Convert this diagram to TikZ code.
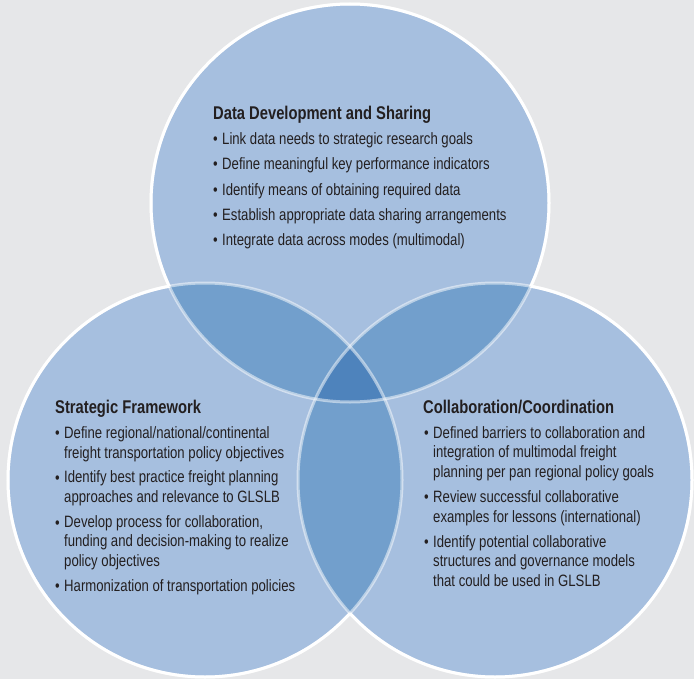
\documentclass[tikz,border=0pt]{standalone}
\usepackage{fontspec}
\setmainfont{Liberation Sans}[FakeStretch=0.8]
\usepackage{xcolor}

\definecolor{pagebg}{RGB}{230,231,233}
\definecolor{vennone}{RGB}{166,191,223}
\definecolor{venntwo}{RGB}{114,159,204}
\definecolor{vennthree}{RGB}{78,131,188}
\definecolor{ink}{RGB}{35,31,32}

\tikzset{
  heading/.style={anchor=base west, inner sep=0pt, text=ink,
    font=\bfseries\fontsize{18.5}{19.5}\selectfont},
  entry/.style={anchor=base west, inner sep=0pt, text=ink, align=left,
    font=\fontsize{16.5}{19.5}\selectfont},
  dot/.style={anchor=base west, inner sep=0pt, text=ink,
    font=\fontsize{16.5}{19.5}\selectfont},
  rim/.style={white, line width=3bp}
}

% the three circles
\def\circD{(350,203) circle (199)}
\def\circS{(205,480) circle (197)}
\def\circC{(495,480) circle (197)}

\begin{document}
\begin{tikzpicture}[x=1bp,y=-1bp]

\useasboundingbox (0,0) rectangle (694,679);
\fill[pagebg] (0,0) rectangle (694,679);

% Plain circle fills
\fill[vennone] \circD;
\fill[vennone] \circS;
\fill[vennone] \circC;

% Pairwise overlaps
\begin{scope}
  \clip \circD;
  \fill[venntwo] \circS;
  \fill[venntwo] \circC;
\end{scope}
\begin{scope}
  \clip \circS;
  \fill[venntwo] \circC;
  \clip \circC;
  \fill[vennthree] \circD;
\end{scope}

% Faint inner rims
\draw[rim, opacity=0.5] \circD;
\draw[rim, opacity=0.5] \circS;
\draw[rim, opacity=0.5] \circC;

% Solid outer rims (outside the other two circles)
\begin{scope}[even odd rule]
  \clip (-10,-10) rectangle (704,689) \circS;
  \clip (-10,-10) rectangle (704,689) \circC;
  \draw[rim] \circD;
\end{scope}
\begin{scope}[even odd rule]
  \clip (-10,-10) rectangle (704,689) \circD;
  \clip (-10,-10) rectangle (704,689) \circC;
  \draw[rim] \circS;
\end{scope}
\begin{scope}[even odd rule]
  \clip (-10,-10) rectangle (704,689) \circD;
  \clip (-10,-10) rectangle (704,689) \circS;
  \draw[rim] \circC;
\end{scope}

% Data Development and Sharing
\node[heading] (dds) at (213,120) {Data Development and Sharing};
\foreach \y/\t [count=\i] in {
    144/Link data needs to strategic research goals,
    169/Define meaningful key performance indicators,
    195/Identify means of obtaining required data,
    220/Establish appropriate data sharing arrangements,
    245/Integrate data across modes (multimodal)} {
  \node[dot] (ddsb\i) at (213,\y) {\textbullet};
  \node[entry] (dds\i) at (222,\y) {\t};
}

% Strategic Framework (bullet on first line, text anchored on last line)
\node[heading] (sf) at (55,413) {Strategic Framework};
\foreach \y/\z/\t [count=\i] in {
    438/458/{Define regional/national/continental\\freight transportation policy objectives},
    483/502/{Identify best practice freight planning\\approaches and relevance to GLSLB},
    528/566/{Develop process for collaboration,\\funding and decision-making to realize\\policy objectives},
    591/591/{Harmonization of transportation policies}} {
  \node[dot] (sfb\i) at (55,\y) {\textbullet};
  \node[entry] (sf\i) at (64,\z) {\t};
}

% Collaboration/Coordination
\node[heading] (cc) at (423,413) {Collaboration/Coordination};
\foreach \y/\z/\t [count=\i] in {
    438/477/{Defined barriers to collaboration and\\integration of multimodal freight\\planning per pan regional policy goals},
    502/522/{Review successful collaborative\\examples for lessons (international)},
    547/586/{Identify potential collaborative\\structures and governance models\\that could be used in GLSLB}} {
  \node[dot] (ccb\i) at (424,\y) {\textbullet};
  \node[entry] (cc\i) at (433,\z) {\t};
}

\end{tikzpicture}
\end{document}
